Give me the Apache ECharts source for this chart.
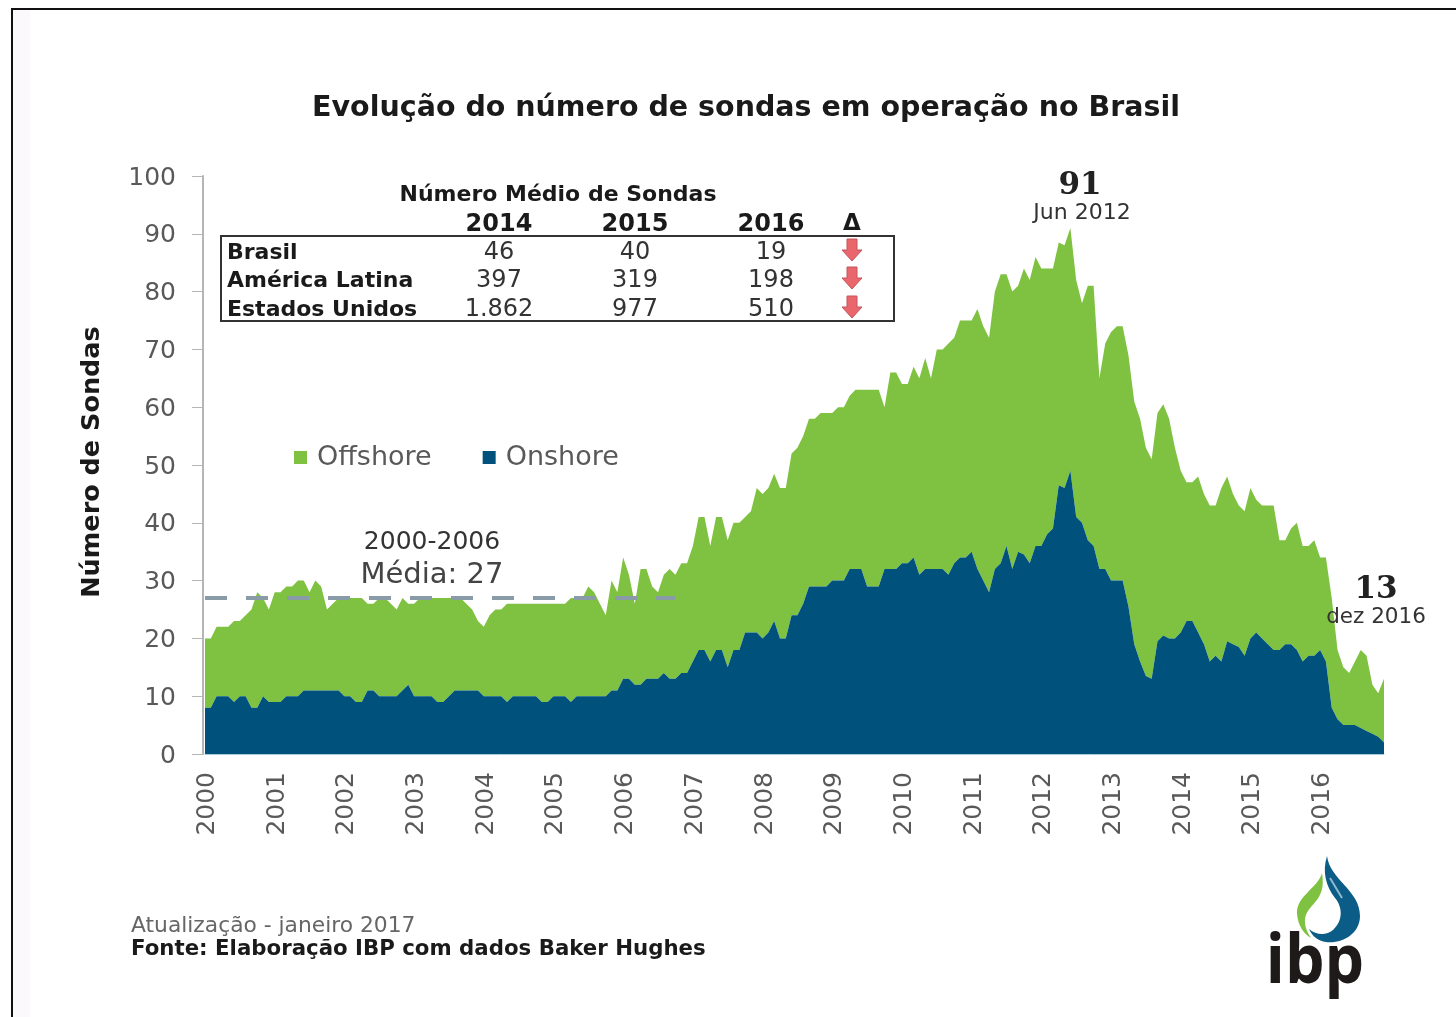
<!DOCTYPE html>
<html><head><meta charset="utf-8">
<style>html,body{margin:0;padding:0;background:#fff}#c{width:1456px;height:1017px;filter:blur(0.5px)}</style>
<script src="https://cdn.jsdelivr.net/npm/echarts@6/dist/echarts.min.js"></script>
</head><body><div id="c"></div>
<script>
const years = ['2000','2001','2002','2003','2004','2005','2006','2007','2008','2009','2010','2011','2012','2013','2014','2015','2016'];
const yTicks = [0,10,20,30,40,50,60,70,80,90,100];
const totalRigs = [
 20,20,22,22,22,23,23,24,25,28,27,25,
 28,28,29,29,30,30,28,30,29,25,26,27,
 27,27,27,27,26,26,27,27,26,25,27,26,
 26,27,27,27,27,27,27,27,27,26,25,23,
 22,24,25,25,26,26,26,26,26,26,26,26,
 26,26,26,27,27,27,29,28,26,24,30,28,
 34,31,26,32,32,29,28,31,32,31,33,33,
 36,41,41,36,41,41,37,40,40,41,42,46,
 45,46,48.5,46,46,52,53,55,58,58,59,59,
 59,60,60,62,63,63,63,63,63,60,66,66,
 64,64,67,65,68.5,65,70,70,71,72,75,75,
 75,77,74,72,80,83,83,80,81,84,82,86,
 84,84,84,88.5,88,91,82,78,81,81,65,71,
 73,74,74,69,61,58,53,51,59,60.5,58,53,
 49,47,47,48,45,43,43,46,48,45,43,42,
 46,44,43,43,43,37,37,39,40,36,36,37,
 34,34,27,18,15,14,16,18,17,12,10.5,13];
const onshore = [
 8,8,10,10,10,9,10,10,8,8,10,9,
 9,9,10,10,10,11,11,11,11,11,11,11,
 10,10,9,9,11,11,10,10,10,10,11,12,
 10,10,10,10,9,9,10,11,11,11,11,11,
 10,10,10,10,9,10,10,10,10,10,9,9,
 10,10,10,9,10,10,10,10,10,10,11,11,
 13,13,12,12,13,13,13,14,13,13,14,14,
 16,18,18,16,18,18,15,18,18,21,21,21,
 20,21,23,20,20,24,24,26,29,29,29,29,
 30,30,30,32,32,32,29,29,29,32,32,32,
 33,33,34,31,32,32,32,32,31,33,34,34,
 35,32,30,28,32,33,36,32,35,34.5,33,36,
 36,38,39,46.5,46,49,41,40,37,36,32,32,
 30,30,30,25.5,19,16,13.5,13,19.5,20.5,20,20,
 21,23,23,21,19,16,17,16,19.5,19,18.5,17,
 20,21,20,19,18,18,19,19,18,16,17,17,
 18,16,8,6,5,5,5,4.5,4,3.5,3,2];
const meanLevel = 27;
const meanEnd = '2006-10';
const tableYears = ['2014','2015','2016'];
const tableRows = ['Brasil','América Latina','Estados Unidos'];
const tableBrasil = ['46','40','19'];
const tableLatam = ['397','319','198'];
const tableUS = ['1.862','977','510'];

const months = ['01','02','03','04','05','06','07','08','09','10','11','12'];
const categories = years.flatMap(y => months.map(m => y + '-' + m));
const offshore = totalRigs.map((t, i) => t - onshore[i]);

const FONT = '"DejaVu Sans"';
const GREEN = '#7FC241', BLUE = '#00527C', GREY = '#595959', DARK = '#1a1a1a';

echarts.graphic.registerShape('logoBlue', echarts.graphic.extendShape({ shape:{}, buildPath(ctx){
  ctx.moveTo(1327,856);
  ctx.bezierCurveTo(1330,880,1360,890,1360,916);
  ctx.bezierCurveTo(1360,934,1342,944,1326,942);
  ctx.bezierCurveTo(1318,941,1312,936,1309,929);
  ctx.bezierCurveTo(1316,935,1326,936,1333,930);
  ctx.bezierCurveTo(1344,920,1342,906,1335,898);
  ctx.bezierCurveTo(1326,886,1322,872,1327,856);
  ctx.closePath();
}}));
echarts.graphic.registerShape('logoGreen', echarts.graphic.extendShape({ shape:{}, buildPath(ctx){
  ctx.moveTo(1322,873);
  ctx.bezierCurveTo(1318,888,1296,896,1297,914);
  ctx.bezierCurveTo(1298,926,1304,934,1311,938);
  ctx.bezierCurveTo(1304,928,1303,918,1308,911);
  ctx.bezierCurveTo(1314,902,1326,896,1322,873);
  ctx.closePath();
}}));

function txt(text, x, y, size, opts) {
  opts = opts || {};
  return { type:'text', z:20, x:x, y:y, scaleX:opts.scaleX||1, style:{ text:text, fontFamily:opts.family||FONT, fontSize:size,
    fontWeight:opts.bold?'bold':'normal', fill:opts.color||DARK, align:opts.align||'center', verticalAlign:'middle' } };
}
function arrow(cx, cy) {
  return { type:'polygon', z:20, shape:{ points:[[cx-5,cy-11],[cx+5,cy-11],[cx+5,cy],[cx+10,cy],[cx,cy+11],[cx-10,cy],[cx-5,cy]] },
    style:{ fill:'#E8666C', stroke:'#C2545A', lineWidth:1 } };
}
const colX = [499,635,771];
const rowY = [253,281,310];
const graphics = [
  { type:'rect', z:0, shape:{x:13,y:10,width:17,height:1007}, style:{fill:'#FBF9FC'} },
  { type:'rect', z:1, shape:{x:11,y:8,width:2,height:1009}, style:{fill:'#111'} },
  { type:'rect', z:1, shape:{x:11,y:8,width:1445,height:2}, style:{fill:'#111'} },
  txt('Evolução do número de sondas em operação no Brasil', 746, 109, 28.5, {bold:true}),
  txt('Número Médio de Sondas', 558, 195, 22, {bold:true}),
  txt('Δ', 852, 224, 23, {bold:true}),
  { type:'rect', z:20, shape:{x:221,y:236,width:673,height:85}, style:{fill:'none',stroke:'#333',lineWidth:2} },
  txt('2000-2006', 432, 542, 25, {color:'#333'}),
  txt('Média: 27', 432, 575, 29, {color:'#444'}),
  txt('91', 1080, 186, 31, {bold:true, family:'"DejaVu Serif"', color:'#222'}),
  txt('Jun 2012', 1082, 213, 22, {color:'#333'}),
  txt('13', 1376, 590, 31, {bold:true, family:'"DejaVu Serif"', color:'#222'}),
  txt('dez 2016', 1376, 617, 21.5, {color:'#333'}),
  txt('Atualização - janeiro 2017', 131, 926, 21.8, {align:'left', color:'#666'}),
  txt('Fonte: Elaboração IBP com dados Baker Hughes', 131, 949, 21.3, {align:'left', bold:true}),
  { type:'logoBlue', z:20, shape:{}, style:{fill:'#0B5C86'} },
  { type:'logoGreen', z:20, shape:{}, style:{fill:'#7FC241'} },
  { type:'line', z:21, shape:{x1:1330,y1:878,x2:1342,y2:898}, style:{stroke:'#8FB9D0',lineWidth:2} },
  txt('ibp', 1315, 964, 68, {bold:true, family:'"Open Sans"', color:'#1E1A1A', scaleX:0.92})
];
tableYears.forEach((y,i)=>graphics.push(txt(y, colX[i], 225, 24, {bold:true})));
tableRows.forEach((r,i)=>{
  graphics.push(txt(r, 227, rowY[i], 22, {bold:true, align:'left'}));
  [tableBrasil,tableLatam,tableUS][i].forEach((v,j)=>graphics.push(txt(v, colX[j], rowY[i], 24, {color:'#333'})));
  graphics.push(arrow(852, rowY[i]-3));
});
graphics.push({ type:'text', z:20, x:92, y:462, rotation:Math.PI/2, style:{ text:'Número de Sondas', fontFamily:FONT, fontSize:25.5, fontWeight:'bold', fill:DARK, align:'center', verticalAlign:'middle' } });

const chart = echarts.init(document.getElementById('c'));
chart.setOption({
  animation:false,
  backgroundColor:'#fff',
  textStyle:{fontFamily:FONT},
  grid:{left:205, right:72, top:176, bottom:263, containLabel:false},
  legend:{ left:289, top:439, icon:'rect', itemWidth:13, itemHeight:13, itemGap:51, selectedMode:false,
    data:['Offshore','Onshore'], textStyle:{fontFamily:FONT, fontSize:27, color:GREY, padding:[0,0,0,5]} },
  xAxis:{ type:'category', data:categories, boundaryGap:false,
    axisLine:{lineStyle:{color:'#A9C9DC',width:1}}, axisTick:{show:false}, splitLine:{show:false},
    axisLabel:{ interval:11, rotate:90, margin:18, fontFamily:FONT, fontSize:25, color:GREY, verticalAlign:'top', lineHeight:5,
      formatter:v=>v.slice(0,4) } },
  yAxis:{ type:'value', min:yTicks[0], max:yTicks[yTicks.length-1], interval:10, offset:2,
    axisLine:{show:true, lineStyle:{color:'#B5B5B5',width:2}}, axisTick:{show:true,length:11,lineStyle:{color:'#B5B5B5',width:1}},
    splitLine:{show:false}, axisLabel:{margin:27, fontFamily:FONT, fontSize:25, color:GREY, verticalAlign:'top', lineHeight:4} },
  graphic:graphics,
  series:[
    { name:'Onshore', type:'line', stack:'rigs', data:onshore, symbol:'none', z:3,
      lineStyle:{width:0}, itemStyle:{color:BLUE}, areaStyle:{color:BLUE,opacity:1} },
    { name:'Offshore', type:'line', stack:'rigs', data:offshore, symbol:'none', z:2,
      lineStyle:{width:0}, itemStyle:{color:GREEN}, areaStyle:{color:GREEN,opacity:1},
      markLine:{ silent:true, symbol:'none', label:{show:false}, z:6, animation:false,
        lineStyle:{color:'#8A9BA8', width:4, type:[22,19]},
        data:[[{coord:[categories[0],meanLevel]},{coord:[meanEnd,meanLevel]}]] } }
  ]
});
</script></body></html>
